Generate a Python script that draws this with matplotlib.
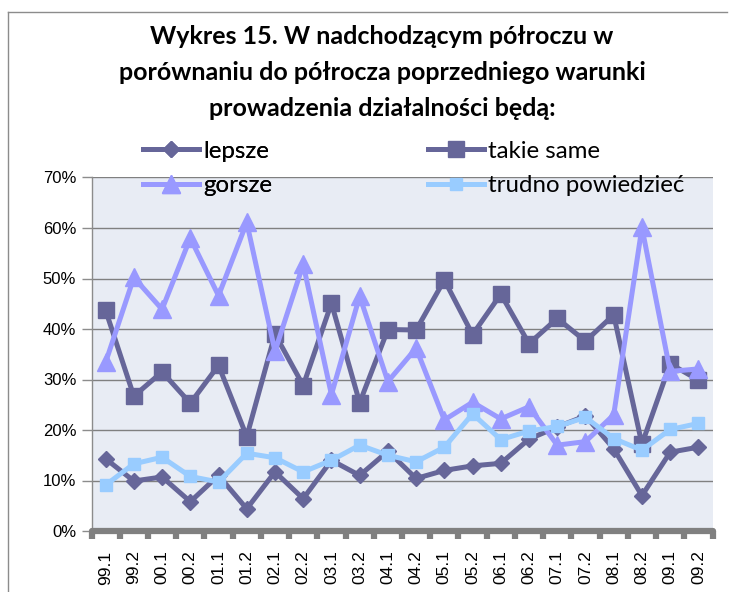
import matplotlib
matplotlib.use("Agg")
import matplotlib.pyplot as plt
from matplotlib.ticker import FixedLocator, FuncFormatter

categories = ["99.1", "99.2", "00.1", "00.2", "01.1", "01.2", "02.1", "02.2",
              "03.1", "03.2", "04.1", "04.2", "05.1", "05.2", "06.1", "06.2",
              "07.1", "07.2", "08.1", "08.2", "09.1", "09.2"]

lepsze = [14.3, 9.9, 10.7, 5.8, 11.0, 4.4, 11.7, 6.4, 14.0, 11.0, 15.8, 10.4,
          12.0, 12.9, 13.4, 18.2, 20.6, 22.8, 16.3, 7.0, 15.6, 16.6]
takie_same = [43.7, 26.7, 31.5, 25.3, 32.8, 18.7, 39.0, 28.8, 45.1, 25.4, 39.9, 39.8,
              49.7, 38.9, 46.9, 37.1, 42.1, 37.6, 42.8, 17.2, 33.1, 29.9]
gorsze = [33.4, 50.2, 43.9, 58.0, 46.6, 61.1, 35.6, 52.8, 27.0, 46.5, 29.6, 36.2,
          22.0, 25.5, 22.2, 24.6, 17.0, 17.7, 23.0, 60.1, 31.6, 32.1]
trudno = [9.1, 13.3, 14.6, 10.8, 9.7, 15.4, 14.5, 11.7, 14.0, 17.0, 15.0, 13.7,
          16.6, 23.2, 18.1, 19.8, 20.7, 22.5, 18.3, 16.0, 20.1, 21.3]

series_names = ["lepsze", "takie same", "gorsze", "trudno powiedzieć"]
title_lines = ["Wykres 15. W nadchodzącym półroczu w",
               "porównaniu do półrocza poprzedniego warunki",
               "prowadzenia działalności będą:"]

W, H = 734, 592
fig = plt.figure(figsize=(W / 100, H / 100), dpi=100)
fig.patch.set_facecolor("white")

# outer chart border (left and top)
fig.add_artist(plt.Line2D([8 / W, 8 / W], [0, 1 - 12 / H], transform=fig.transFigure,
                          color="#8c8c8c", lw=1))
fig.add_artist(plt.Line2D([8 / W, 727 / W], [1 - 12 / H, 1 - 12 / H], transform=fig.transFigure,
                          color="#8c8c8c", lw=1))

left, right, top, bottom = 91.5, 712.5, 177.5, 531
ax = fig.add_axes([left / W, 1 - bottom / H, (right - left) / W, (bottom - top) / H])
ax.set_facecolor("#E8ECF4")

x = list(range(len(categories)))
dark = "#666699"
h1, = ax.plot(x, lepsze, color=dark, lw=3.6, marker="D", ms=8, label=series_names[0], zorder=3)
h2, = ax.plot(x, takie_same, color=dark, lw=3.6, marker="s", ms=11.5, label=series_names[1], zorder=4)
h3, = ax.plot(x, gorsze, color="#9999FF", lw=3.6, marker="^", ms=13, label=series_names[2], zorder=5)
h4, = ax.plot(x, trudno, color="#99CCFF", lw=3.6, marker="s", ms=8.5, label=series_names[3], zorder=6)

ax.set_xlim(-0.5, len(categories) - 0.5)
ax.set_ylim(0, 70)
ax.yaxis.set_major_locator(FixedLocator([0, 10, 20, 30, 40, 50, 60, 70]))
ax.yaxis.set_major_formatter(FuncFormatter(lambda v, p: f"{int(round(v))}%"))
ax.grid(axis="y", color="#808080", lw=1)
ax.set_axisbelow(True)

ax.set_xticks(x)
ax.set_xticklabels(categories, rotation=90, fontfamily="Liberation Sans", fontsize=12.5)
ax.set_xticks([i - 0.5 for i in range(len(categories) + 1)], minor=True)
ax.tick_params(axis="x", which="major", length=0, pad=14)
ax.tick_params(axis="x", which="minor", length=6, width=4.5, color="#808080", direction="out")
for lab in ax.get_yticklabels():
    lab.set_fontfamily("Liberation Sans")
ax.tick_params(axis="y", length=7, width=1, color="#8c8c8c", labelsize=12, pad=4)

for s in ["top", "right"]:
    ax.spines[s].set_visible(False)
ax.spines["left"].set_color("#8c8c8c")
ax.spines["left"].set_linewidth(1)
ax.spines["bottom"].set_color("#808080")
ax.spines["bottom"].set_linewidth(4.5)
ax.spines["bottom"].set_capstyle("round")

for i, line in enumerate(title_lines):
    fig.text(382 / W, 1 - (37 + i * 35.5) / H, line, ha="center", va="center",
             fontfamily="Lato", fontweight="bold", fontsize=18)

leg_kw = dict(loc="center left", frameon=False, prop={"family": "Lato", "size": 17.3},
              handlelength=2.35, handletextpad=0.15, labelspacing=0.57,
              borderpad=0, borderaxespad=0)
leg1 = fig.legend([h1, h3], [series_names[0], series_names[2]],
                  bbox_to_anchor=(143 / W, 1 - 168.5 / H), **leg_kw)
fig.add_artist(leg1)
leg2 = fig.legend([h2, h4], [series_names[1], series_names[3]],
                  bbox_to_anchor=(428 / W, 1 - 168.5 / H), **leg_kw)

fig.savefig("out.png", dpi=100)
